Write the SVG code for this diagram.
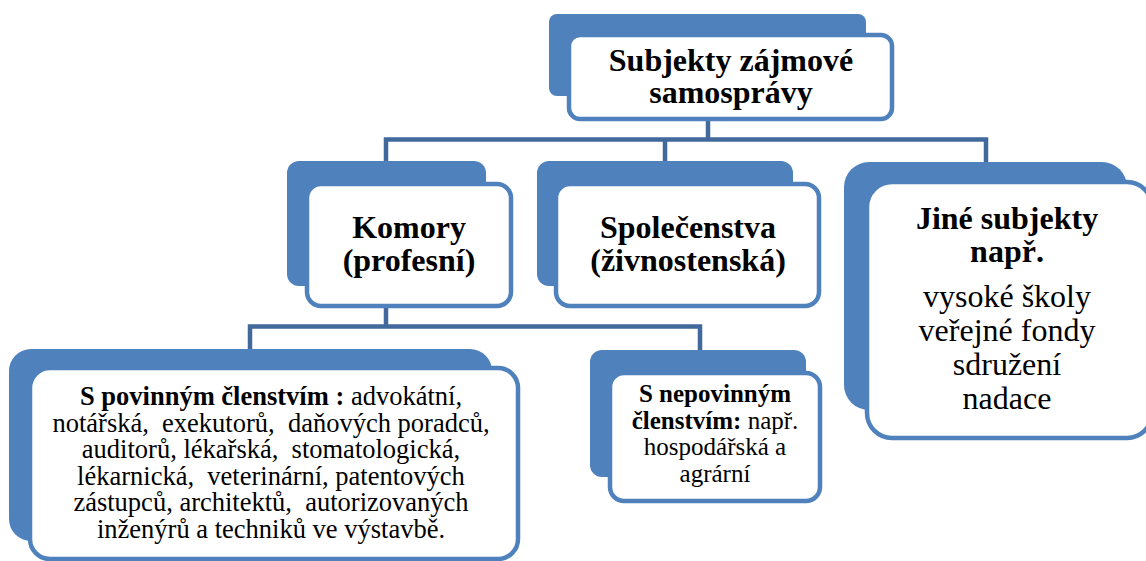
<svg xmlns="http://www.w3.org/2000/svg" width="1146" height="561" viewBox="0 0 1146 561">
<style>
.back{fill:#4f81bd;}
.front{fill:#ffffff;stroke:#4f81bd;stroke-width:4.5;}
.conn{fill:none;stroke:#41699b;stroke-width:4.5;stroke-linejoin:miter;}
text{font-family:"Liberation Serif","Times New Roman",serif;fill:#000;text-anchor:middle;}
.h{font-size:32px;font-weight:bold;}
.r{font-size:32px;}
.s{font-size:26.5px;}
.n{font-size:25px;}
.b{font-weight:bold;}
</style>
<rect width="1146" height="561" fill="#ffffff"/>
<g id="connectors">
<path class="conn" d="M708,121 V139.5"/>
<path class="conn" d="M386,161 V139.5 H986 V162"/>
<path class="conn" d="M665,139.5 V161"/>
<path class="conn" d="M386,308 V326.5"/>
<path class="conn" d="M250,349 V326.5 H700 V350"/>
</g>
<g id="root">
<rect class="back" x="549" y="14" width="317" height="82" rx="8"/>
<rect class="front" x="569" y="35" width="323" height="84" rx="11"/>
<text class="h" x="731" y="71">Subjekty zájmové</text>
<text class="h" x="731" y="103">samosprávy</text>
</g>
<g id="komory">
<rect class="back" x="287" y="161" width="199" height="125" rx="12"/>
<rect class="front" x="307" y="184" width="204" height="122" rx="14"/>
<text class="h" x="409" y="238">Komory</text>
<text class="h" x="409" y="271">(profesní)</text>
</g>
<g id="spolecenstva">
<rect class="back" x="537" y="161" width="256" height="125" rx="12"/>
<rect class="front" x="556" y="184" width="263" height="122" rx="14"/>
<text class="h" x="688" y="238">Společenstva</text>
<text class="h" x="688" y="271">(živnostenská)</text>
</g>
<g id="jine">
<rect class="back" x="844" y="162" width="283" height="248" rx="25"/>
<rect class="front" x="867" y="182" width="285" height="256" rx="25"/>
<text class="h" x="1007" y="229">Jiné subjekty</text>
<text class="h" x="1007" y="262">např.</text>
<text class="r" x="1007" y="306.5">vysoké školy</text>
<text class="r" x="1007" y="340.5">veřejné fondy</text>
<text class="r" x="1007" y="375">sdružení</text>
<text class="r" x="1007" y="409">nadace</text>
</g>
<g id="povinne">
<rect class="back" x="9" y="349" width="483" height="192" rx="22"/>
<rect class="front" x="30" y="368" width="488" height="191" rx="20"/>
<text class="s" x="271" y="405" xml:space="preserve"><tspan class="b">S povinným členstvím :</tspan> advokátní,</text>
<text class="s" x="271" y="431.5" xml:space="preserve">notářská,  exekutorů,  daňových poradců,</text>
<text class="s" x="271" y="458" xml:space="preserve">auditorů, lékařská,  stomatologická,</text>
<text class="s" x="271" y="484.5" xml:space="preserve">lékarnická,  veterinární, patentových</text>
<text class="s" x="271" y="511" xml:space="preserve">zástupců, architektů,  autorizovaných</text>
<text class="s" x="271" y="537.5" xml:space="preserve">inženýrů a techniků ve výstavbě.</text>
</g>
<g id="nepovinne">
<rect class="back" x="590" y="350" width="216" height="127" rx="12"/>
<rect class="front" x="610" y="373" width="210" height="128" rx="14"/>
<text class="n b" x="715" y="402">S nepovinným</text>
<text class="n" x="715" y="428.5"><tspan class="b">členstvím:</tspan> např.</text>
<text class="n" x="715" y="455">hospodářská a</text>
<text class="n" x="715" y="481.5">agrární</text>
</g>
</svg>
